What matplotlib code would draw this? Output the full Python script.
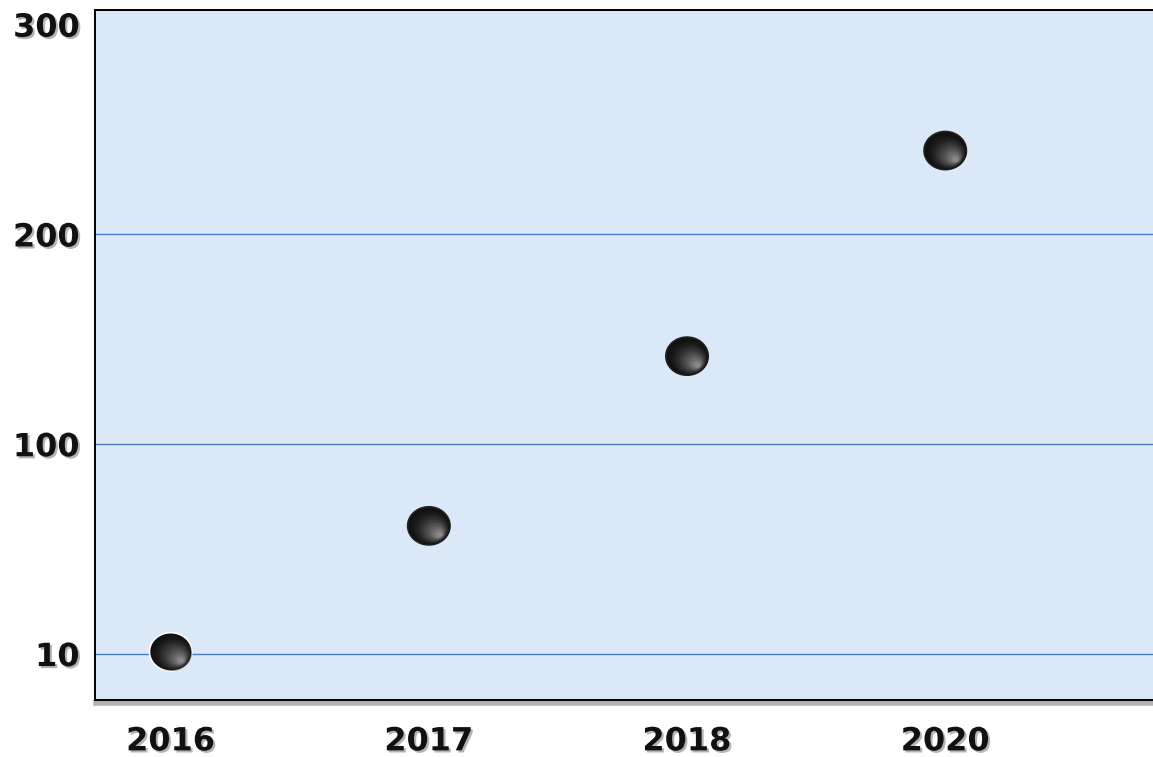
import numpy as np
import matplotlib
matplotlib.use("Agg")
import matplotlib.pyplot as plt
from matplotlib import patheffects as pe
from matplotlib.path import Path
from matplotlib.transforms import ScaledTranslation

# Data
years = ["2016", "2017", "2018", "2020"]
values = [11, 65, 142, 240]
ytick_values = [10, 100, 200, 300]
grid_values = [10, 100, 200]

# Tick values are spaced evenly: piecewise-linear value scale
knot_vals = np.array([-80.0, 10.0, 100.0, 200.0, 300.0, 400.0])
knot_pos = np.array([-1.0, 0.0, 1.0, 2.0, 3.0, 4.0])


def forward(v):
    return np.interp(v, knot_vals, knot_pos)


def inverse(p):
    return np.interp(p, knot_pos, knot_vals)


W, H, DPI = 1153, 757, 100
fig = plt.figure(figsize=(W / DPI, H / DPI), dpi=DPI)
fig.patch.set_facecolor("white")

ax_left, ax_right = 95 / W, 1159 / W
ax_bottom, ax_top = 1 - 700 / H, 1 - 10 / H
ax = fig.add_axes([ax_left, ax_bottom, ax_right - ax_left, ax_top - ax_bottom])
ax.set_facecolor("#dbe8f7")

ax.set_yscale("function", functions=(forward, inverse))
ax.set_ylim(inverse(-0.219), inverse(3.07))
x = np.arange(len(years))
ax.set_xlim(-0.293, 3.828)

# Horizontal guide lines
for g in grid_values:
    ax.axhline(g, color="#4a7cc4", lw=1.0, zorder=1)

# Spines: black frame with soft drop shadow along the bottom
for side in ["left", "top", "bottom"]:
    ax.spines[side].set_color("black")
    ax.spines[side].set_linewidth(1.4)
ax.spines["right"].set_visible(False)
ax.spines["bottom"].set_path_effects([
    pe.SimpleLineShadow(offset=(0.5, -2.5), shadow_color="#555555", alpha=0.45, linewidth=4),
    pe.Normal(),
])

# Ticks and labels
shadow = [pe.withSimplePatchShadow(offset=(1.5, -1.5), shadow_rgbFace="#777777", alpha=0.55)]
ax.set_yticks(ytick_values)
ax.set_yticklabels([str(v) for v in ytick_values])
ax.set_xticks(x)
ax.set_xticklabels(years)
ax.tick_params(axis="y", length=0, pad=11)
ax.tick_params(axis="x", length=0, pad=19)
for lab in ax.get_yticklabels() + ax.get_xticklabels():
    lab.set_fontsize(23)
    lab.set_fontweight("bold")
    lab.set_fontfamily("DejaVu Sans")
    lab.set_color("#111111")
    lab.set_path_effects(shadow)
ax.minorticks_off()

# Glossy sphere markers: dark base with a light sheen toward the lower right
theta = np.linspace(0, 2 * np.pi, 73)
ell_verts = np.column_stack([np.cos(theta), 0.9 * np.sin(theta)])
ell = Path(ell_verts, closed=True)

diam_pt = 30.5
base_size = diam_pt ** 2
edge_colors = ["white", "#222222", "#222222", "#222222"]
ax.scatter(x, values, s=base_size, marker=ell, color="#111111",
           edgecolors=edge_colors, linewidths=1.2, zorder=5)

n_layers = 28
max_shift = diam_pt / 2 * 0.55  # points
for k in range(1, n_layers):
    t = k / n_layers
    shift = ScaledTranslation(t * max_shift / 72 * 0.9, -t * max_shift / 72 * 0.75,
                              fig.dpi_scale_trans)
    shade = 0.07 + 0.55 * t ** 1.4
    size = base_size * (1 - 0.92 * t) ** 2
    ax.scatter(x, values, s=size, marker=ell, color=(shade, shade, shade),
               alpha=0.35, linewidths=0, zorder=5 + k * 0.01,
               transform=ax.transData + shift)

fig.savefig("out.png", dpi=DPI, facecolor="white")
